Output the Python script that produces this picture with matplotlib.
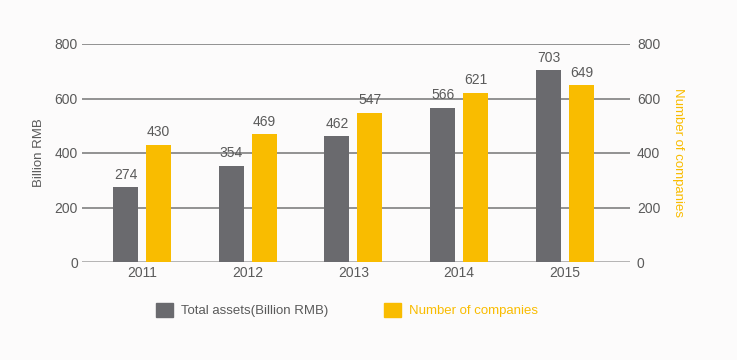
import numpy as np
import matplotlib
matplotlib.use("Agg")
import matplotlib.pyplot as plt
from matplotlib.patches import Patch

years = ["2011", "2012", "2013", "2014", "2015"]
assets = [274, 354, 462, 566, 703]
companies = [430, 469, 547, 621, 649]
yticks = [0, 200, 400, 600, 800]

gray = "#6a6a6e"
yellow = "#f9bc00"
text_gray = "#5a5a5a"
bg = "#fcfbfb"

plt.rcParams['font.family'] = ['Liberation Sans', 'DejaVu Sans']

fig = plt.figure(figsize=(7.37, 3.6), dpi=100, facecolor=bg)
ax = fig.add_axes([82/737, 1-262/360, 548/737, 218/360])
ax.set_facecolor(bg)
ax2 = ax.twinx()

x = np.arange(len(years))
w = 0.236
off = 0.156
ax.bar(x - off, assets, w, color=gray, zorder=3)
ax2.bar(x + off, companies, w, color=yellow, zorder=3)

for a in (ax, ax2):
    a.set_ylim(0, 800)
    a.set_yticks(yticks)
    a.set_xlim(-0.567, 4.615)
    for s in a.spines.values():
        s.set_visible(False)
    a.tick_params(length=0, labelsize=10, labelcolor=text_gray)

ax.tick_params(axis='y', pad=3)
ax2.tick_params(axis='y', pad=5)
ax.tick_params(axis='x', pad=3)
ax.set_xticks(x)
ax.set_xticklabels(years)

# gridlines
for yv in yticks:
    ax.axhline(yv, color="#a8a8a8" if yv == 0 else "#808080", lw=1.2, zorder=1)

for xi, v in zip(x, assets):
    ax.text(xi - off, v + 20, str(v), ha='center', va='bottom', fontsize=10, color=text_gray)
for xi, v in zip(x, companies):
    ax2.text(xi + off, v + 20, str(v), ha='center', va='bottom', fontsize=10, color=text_gray)

ax.set_ylabel("Billion RMB", fontsize=9.5, color=text_gray, labelpad=7)
ax2.set_ylabel("Number of companies", fontsize=9.5, color=yellow, rotation=270, labelpad=17)

handles = [Patch(color=gray), Patch(color=yellow)]
leg = fig.legend(handles, ["Total assets(Billion RMB)", "Number of companies"],
                 loc='center', bbox_to_anchor=(347/737, 1-310/360), ncol=2, frameon=False,
                 fontsize=9.5, handlelength=1.3, handleheight=1.3, columnspacing=4.2,
                 handletextpad=0.6)
leg.get_texts()[0].set_color(text_gray)
leg.get_texts()[1].set_color(yellow)

fig.savefig("out.png", dpi=100, facecolor=bg)
